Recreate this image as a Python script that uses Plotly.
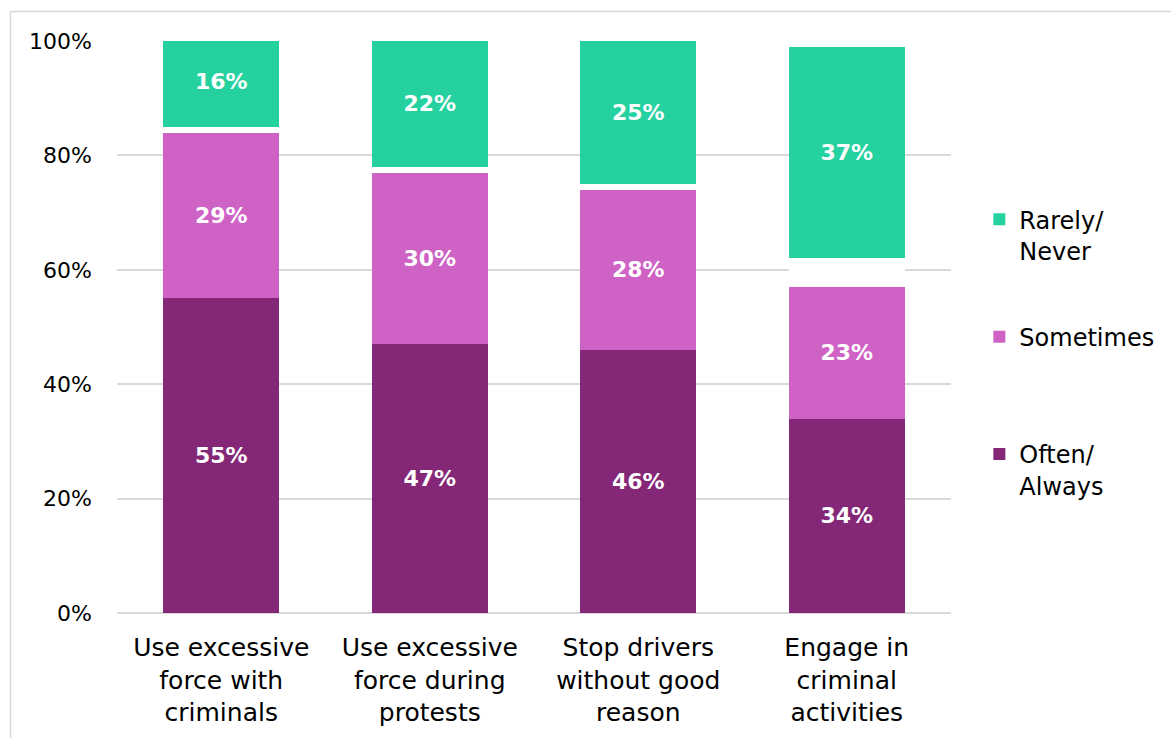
import plotly.graph_objects as go

categories = [
    "Use excessive<br>force with<br>criminals",
    "Use excessive<br>force during<br>protests",
    "Stop drivers<br>without good<br>reason",
    "Engage in<br>criminal<br>activities",
]
often_always = [55, 47, 46, 34]
sometimes = [29, 30, 28, 23]
dont_know = [1, 1, 1, 5]
rarely_never = [16, 22, 25, 37]

TEAL = "#26D1A0"
PINK = "#CF62C5"
PURPLE = "#852777"
FONT = "DejaVu Sans"

fig = go.Figure()

label_font = dict(family=FONT, size=22, color="white", weight="bold")


def add_series(values, color, group, legend_name, rank):
    fig.add_trace(go.Bar(
        x=categories, y=values, name=legend_name,
        marker=dict(color=color, line=dict(width=0)),
        text=values, texttemplate="%{text}%",
        textposition="inside", insidetextanchor="middle",
        textfont=label_font, textangle=0,
        legendgroup=group, legendrank=rank,
    ))


add_series(often_always, PURPLE, "often", "Often/<br>Always", 3)
add_series(sometimes, PINK, "sometimes", "Sometimes<br> ", 2)
fig.add_trace(go.Bar(
    x=categories, y=dont_know, name="Don't know",
    marker=dict(color="white", line=dict(width=0)),
    textposition="none", showlegend=False, hoverinfo="skip",
    legendgroup="dk",
))
add_series(rarely_never, TEAL, "rarely", "Rarely/<br>Never", 1)

fig.update_layout(
    width=1171, height=738,
    barmode="stack", bargap=0.444,
    paper_bgcolor="white", plot_bgcolor="white",
    margin=dict(l=117, r=220, t=41, b=125, autoexpand=False),
    font=dict(family=FONT, size=24, color="#000000"),
    uniformtext=dict(mode=False),
    legend=dict(
        x=1.034, xanchor="left", y=0.727, yanchor="top",
        traceorder="grouped", tracegroupgap=52,
        valign="top", itemwidth=30,
        font=dict(family=FONT, size=24, color="#000000"),
        itemsizing="constant",
    ),
    xaxis=dict(
        showgrid=False, showline=False, ticks="",
        ticklabelstandoff=17,
        tickfont=dict(family=FONT, size=25, color="#000000"),
    ),
    yaxis=dict(
        range=[0, 100], dtick=20, ticksuffix="%",
        showgrid=True, gridcolor="#D9D9D9", gridwidth=1.5,
        zeroline=True, zerolinecolor="#D9D9D9", zerolinewidth=1.5,
        showline=False, ticks="", ticklabelstandoff=24,
        tickfont=dict(family=FONT, size=22, color="#000000"),
    ),
    shapes=[dict(
        type="rect", xref="paper", yref="paper",
        x0=-0.1277, x1=1.4, y0=-0.4, y1=1.0516,
        line=dict(color="#D9D9D9", width=1.5), layer="below",
    )],
)

fig.write_html("out.html")
